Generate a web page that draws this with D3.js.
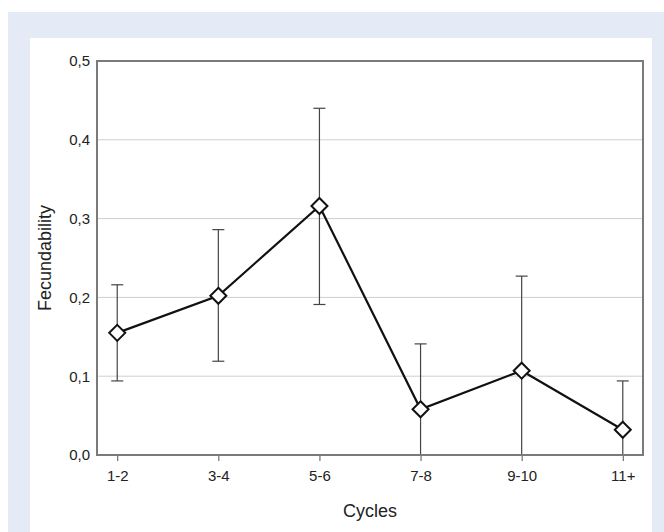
<!DOCTYPE html>
<html>
<head>
<meta charset="utf-8">
<script src="https://cdn.jsdelivr.net/npm/d3@7"></script>
<style>
  body { margin: 0; background: #fff; }
  svg { display: block; font-family: 'Liberation Sans', Arial, sans-serif; }
</style>
</head>
<body>
<svg id="chart" width="664" height="532"></svg>
<script>
// data
const cycles = ['1-2', '3-4', '5-6', '7-8', '9-10', '11+'];
const fecundability = [0.155, 0.202, 0.316, 0.058, 0.107, 0.032];
const ciLow = [0.094, 0.119, 0.191, 0.0, 0.0, 0.0];
const ciHigh = [0.216, 0.286, 0.440, 0.141, 0.227, 0.094];
const yTicks = [0, 0.1, 0.2, 0.3, 0.4, 0.5];

const conf = {
  left: 97,
  right: 643,
  top: 61,
  bottom: 455,
  capWidth: 12,
  markerSize: 8,
  tickFont: 15,
  titleFont: 18
};

const svg = d3.select('#chart');

// page background: light blue frame, white panel
svg.append('rect').attr('x', 8).attr('y', 12).attr('width', 656).attr('height', 520).attr('fill', '#e4eaf6');
svg.append('rect').attr('x', 30).attr('y', 38).attr('width', 622).attr('height', 494).attr('fill', '#ffffff');

const x = d3.scalePoint().domain(cycles).range([conf.left, conf.right]).padding(0.2);
const y = d3.scaleLinear().domain([0, 0.5]).range([conf.bottom, conf.top]);

const fmt = d => d3.format('.1f')(d).replace('.', ',');

// gridlines
svg.append('g')
  .selectAll('line')
  .data(yTicks.slice(1, -1))
  .join('line')
  .attr('x1', conf.left)
  .attr('x2', conf.right)
  .attr('y1', d => y(d))
  .attr('y2', d => y(d))
  .attr('stroke', '#cfcfcf')
  .attr('stroke-width', 1);

// y axis labels
const yAxis = svg.append('g')
  .attr('transform', 'translate(' + conf.left + ',0)')
  .call(d3.axisLeft(y).tickValues(yTicks).tickFormat(fmt).tickSize(0).tickPadding(7));
yAxis.select('.domain').remove();
yAxis.selectAll('text').attr('font-size', conf.tickFont).attr('fill', '#222').attr('font-family', null);

// x axis
const xAxis = svg.append('g')
  .attr('transform', 'translate(0,' + conf.bottom + ')')
  .call(d3.axisBottom(x).tickSize(6).tickPadding(9));
xAxis.select('.domain').remove();
xAxis.selectAll('line').attr('stroke', '#555');
xAxis.selectAll('text').attr('font-size', conf.tickFont).attr('fill', '#222').attr('font-family', null);

// error bars
const err = svg.append('g').attr('stroke', '#444').attr('stroke-width', 1.2);
cycles.forEach((c, i) => {
  err.append('line')
    .attr('x1', x(c)).attr('x2', x(c))
    .attr('y1', y(ciLow[i])).attr('y2', y(ciHigh[i]));
  [ciLow[i], ciHigh[i]].forEach(v => {
    if (v <= 0) return;
    err.append('line')
      .attr('x1', x(c) - conf.capWidth / 2).attr('x2', x(c) + conf.capWidth / 2)
      .attr('y1', y(v)).attr('y2', y(v));
  });
});

// plot frame
svg.append('rect')
  .attr('x', conf.left).attr('y', conf.top)
  .attr('width', conf.right - conf.left).attr('height', conf.bottom - conf.top)
  .attr('fill', 'none').attr('stroke', '#7a7a7a').attr('stroke-width', 2);

// line
const line = d3.line().x((d, i) => x(cycles[i])).y(d => y(d));
svg.append('path')
  .attr('d', line(fecundability))
  .attr('fill', 'none').attr('stroke', '#111').attr('stroke-width', 2.2);

// diamond markers
const s = conf.markerSize;
svg.append('g')
  .selectAll('path')
  .data(fecundability)
  .join('path')
  .attr('transform', (d, i) => 'translate(' + x(cycles[i]) + ',' + y(d) + ')')
  .attr('d', 'M0,' + -s + 'L' + s + ',0L0,' + s + 'L' + -s + ',0Z')
  .attr('fill', '#fff').attr('stroke', '#111').attr('stroke-width', 2);

// titles
svg.append('text')
  .attr('x', (conf.left + conf.right) / 2).attr('y', 517)
  .attr('text-anchor', 'middle').attr('font-size', conf.titleFont).attr('fill', '#222')
  .text('Cycles');
svg.append('text')
  .attr('transform', 'translate(51,' + (conf.top + conf.bottom) / 2 + ') rotate(-90)')
  .attr('text-anchor', 'middle').attr('font-size', conf.titleFont).attr('fill', '#222')
  .text('Fecundability');
</script>
</body>
</html>
